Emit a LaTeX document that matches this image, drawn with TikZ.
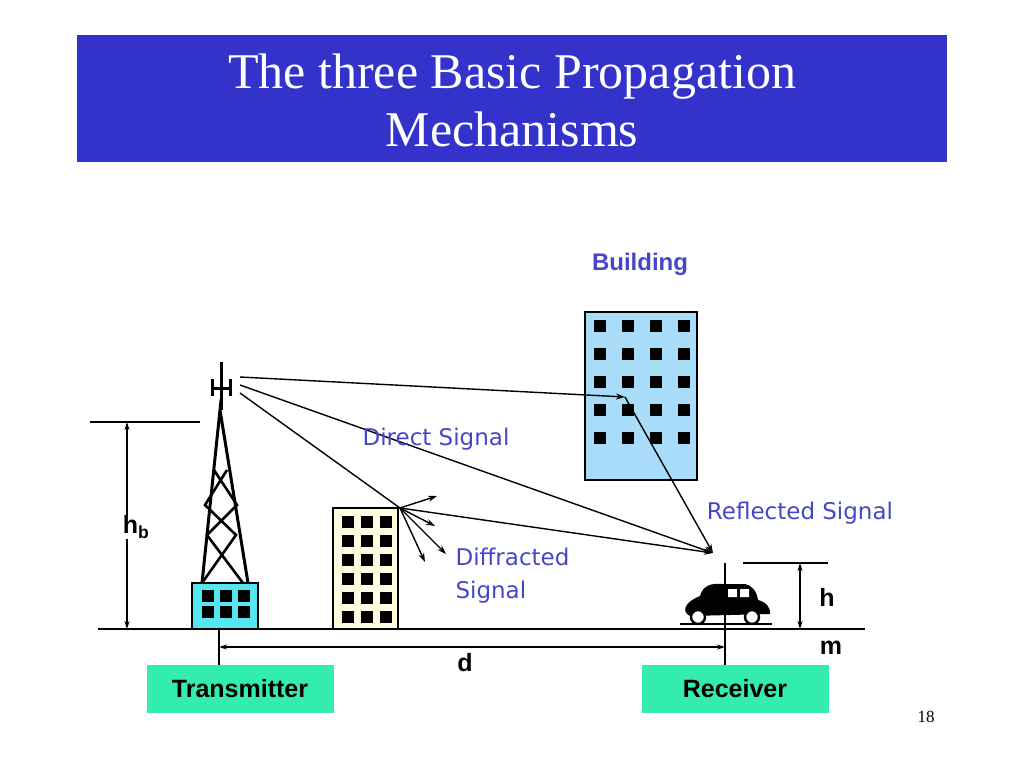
\documentclass[tikz,border=0pt]{standalone}
\usepackage{fontspec}
\setmainfont{Liberation Serif}
\newfontfamily\sansb{Liberation Sans}
\newfontfamily\lbl{DejaVu Sans}
\usetikzlibrary{arrows.meta}
\definecolor{titleblue}{HTML}{3333CC}
\definecolor{lblblue}{HTML}{4646C8}
\definecolor{bldblue}{HTML}{A8DCF8}
\definecolor{cream}{HTML}{FFFBE0}
\definecolor{towercyan}{HTML}{55E6F0}
\definecolor{boxgreen}{HTML}{33EDB0}
\tikzset{
 ray/.style={line width=1.4pt,-{Stealth[length=9pt,width=6pt]}},
 plain/.style={line width=1.4pt},
 dim/.style={line width=1.4pt,{Stealth[length=8pt,width=5pt]}-{Stealth[length=8pt,width=5pt]}},
 bl/.style={font=\sansb\bfseries\fontsize{25}{28}\selectfont},
 sig/.style={text=lblblue,font=\lbl\fontsize{23}{33}\selectfont},
 label box/.style={fill=boxgreen,minimum width=187pt,minimum height=48pt,inner sep=0pt,font=\sansb\bfseries\fontsize{25}{28}\selectfont}
}
\begin{document}
\begin{tikzpicture}[x=1pt,y=-1pt]
\useasboundingbox (0,0) rectangle (1024,768);
% title
\fill[titleblue] (77,35) rectangle (947,162);
\node[text=white,font=\fontsize{50}{58}\selectfont,align=center] (title) at (512,100) {The three Basic Propagation\\Mechanisms};
% ground
\draw[plain] (98,629) -- (865,629);
% tower base
\draw[fill=towercyan,line width=1.4pt] (192,583) rectangle (258,629);
\foreach \i in {0,1,2}{\foreach \j in {0,1}{\fill (202+\i*18,590+\j*16) rectangle ++(12,12);}}
% tower
\draw[line width=3pt] (221,362) -- (221,410);
\draw[line width=3pt] (212,379) -- (212,396) (230,379) -- (230,396) (212,388) -- (230,388);
\draw[line width=3pt] (202,583) -- (220,410) -- (248,583);
\draw[line width=2.6pt] (214,470) -- (237,505) -- (207,535) -- (243,583)
  (227,470) -- (205,505) -- (236,535) -- (202,583);
% small building
\draw[fill=cream,line width=1.4pt] (333,508) rectangle (398,629);
\foreach \i in {0,1,2}{\foreach \j in {0,...,5}{\fill (342+\i*19,516+\j*19) rectangle ++(12,12);}}
% big building
\draw[fill=bldblue,line width=1.4pt] (585,312) rectangle (697,480);
\foreach \i in {0,...,3}{\foreach \j in {0,...,4}{\fill (594+\i*28,320+\j*28) rectangle ++(12,12);}}
\node[text=lblblue,font=\sansb\bfseries\fontsize{24}{26}\selectfont] (bld) at (640,264) {Building};
% points
\coordinate (tx) at (240,377);
\coordinate (tx2) at (240,385);
\coordinate (tx3) at (240,393);
\coordinate (refl) at (625,397);
\coordinate (dif) at (400,508);
\coordinate (rx) at (713,553);
\draw[ray] (tx) -- (refl);
\draw[ray] (refl) -- (rx);
\draw[ray] (tx2) -- (rx);
\draw[plain] (tx3) -- (dif);
\draw[ray] (dif) -- (rx);
\draw[ray] (dif) -- (437,496);
\draw[ray] (dif) -- (435,526);
\draw[ray] (dif) -- (446,554);
\draw[ray] (dif) -- (425,562);
% labels
\node[sig] (ds) at (436,439) {Direct Signal};
\node[sig] (rs) at (800,513) {Reflected Signal};
\node[sig,align=left,anchor=west] (dfs) at (452,576) {Diffracted\\Signal};
% car
\draw[plain] (725,563) -- (725,665);
\fill (700,596) .. controls (703,585) and (712,583) .. (722,584) -- (745,584) .. controls (752,585) and (757,592) .. (758,600)
  .. controls (766,602) and (771,608) .. (770,614) -- (690,616) .. controls (682,612) and (683,603) .. (700,596) -- cycle;
\fill[white] (728,589) rectangle (737,597) (740,589) rectangle (749,597);
\draw[fill=white,line width=2.4pt] (698,617) circle (7) (752,617) circle (7);
\draw[line width=1.4pt] (680,624) -- (772,624);
% hb
\draw[plain] (90,422) -- (200,422);
\draw[dim] (127,422) -- (127,629);
\node[bl,fill=white,inner sep=1pt] (hb) at (136,527) {h\textsubscript{b}};
% h
\draw[plain] (743,563) -- (828,563);
\draw[dim] (800,563) -- (800,629);
\node[bl] (h) at (827,597) {h};
\node[bl] (m) at (831,648) {m};
% d
\draw[plain] (219,629) -- (219,665);
\draw[dim] (219,647) -- (725,647);
\node[bl] (d) at (465,663) {d};
% boxes
\node[label box] (trans) at (240,689) {Transmitter};
\node[label box] (recv) at (735,689) {Receiver};
\node[font=\fontsize{17}{19}\selectfont] (pg) at (926,717) {18};
\end{tikzpicture}
\end{document}
